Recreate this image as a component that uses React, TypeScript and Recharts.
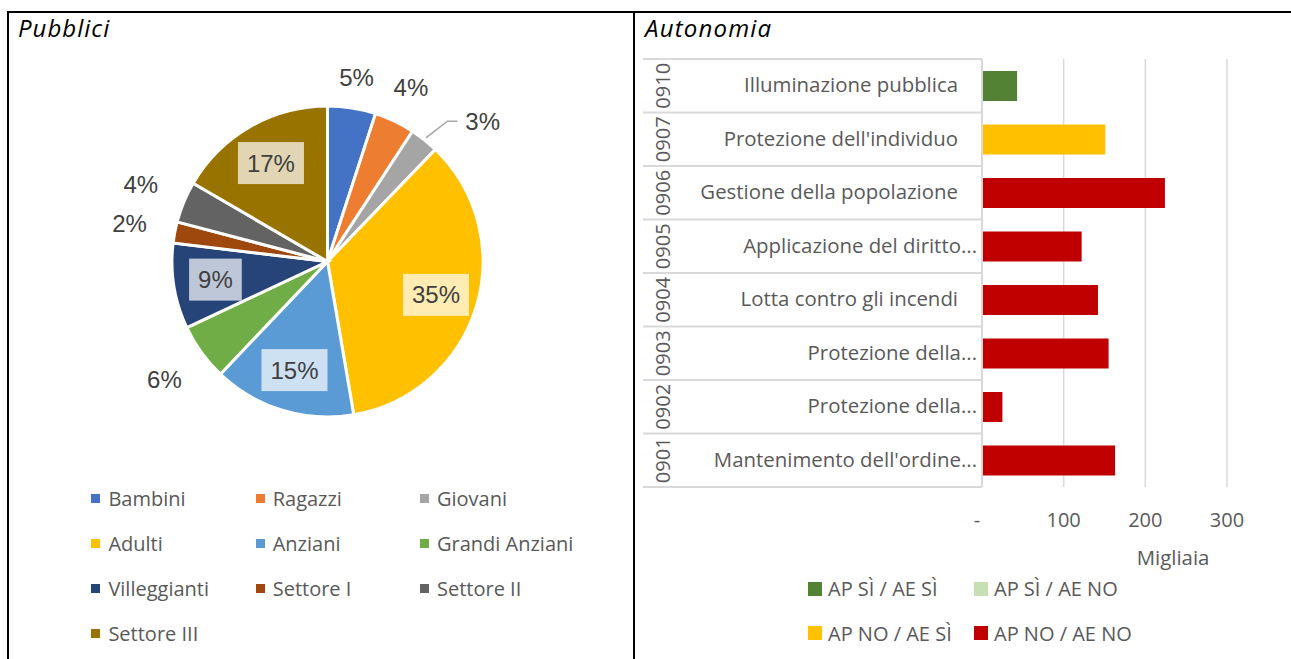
import React from 'react';
import { PieChart, Pie, Cell, Legend, BarChart, Bar, XAxis, YAxis, CartesianGrid, Label } from 'recharts';

// ---------- Data: Pubblici (pie) ----------
const pieCategories = ['Bambini', 'Ragazzi', 'Giovani', 'Adulti', 'Anziani', 'Grandi Anziani', 'Villeggianti', 'Settore I', 'Settore II', 'Settore III'];
const pieValues = [5.0, 4.2, 3.0, 35.1, 14.8, 5.9, 8.9, 2.2, 4.3, 16.6];
const pieColors = ['#4472C4', '#ED7D31', '#A5A5A5', '#FFC000', '#5B9BD5', '#70AD47', '#264478', '#9E480E', '#636363', '#997300'];
const leaderLabels = ['Giovani'];

// ---------- Data: Autonomia (bars) ----------
const barCodes = ['0910', '0907', '0906', '0905', '0904', '0903', '0902', '0901'];
const barNames = ['Illuminazione pubblica', "Protezione dell'individuo", 'Gestione della popolazione', 'Applicazione del diritto...', 'Lotta contro gli incendi', 'Protezione della...', 'Protezione della...', "Mantenimento dell'ordine..."];
const apSiAeSi = [43, null, null, null, null, null, null, null];
const apSiAeNo = [null, null, null, null, null, null, null, null];
const apNoAeSi = [null, 151, null, null, null, null, null, null];
const apNoAeNo = [null, null, 224, 122, 142, 155, 25, 163];
const seriesNames = ['AP SÌ / AE SÌ', 'AP SÌ / AE NO', 'AP NO / AE SÌ', 'AP NO / AE NO'];
const seriesColors = ['#548235', '#C6E0B4', '#FFC000', '#C00000'];
const xTicks = [0, 100, 200, 300];

const pieData = pieCategories.map((name, i) => ({ name, value: pieValues[i] }));
const barData = barCodes.map((code, i) => ({
  code,
  name: barNames[i],
  s0: apSiAeSi[i],
  s1: apSiAeNo[i],
  s2: apNoAeSi[i],
  s3: apNoAeNo[i],
}));

const PIE_FONT = '"Liberation Sans", Arial, sans-serif';
const UI_FONT = '"Open Sans", "Noto Sans", sans-serif';
const TEXT = '#404040';
const SOFT = '#595959';
const GRID = '#D9D9D9';
const RAD = Math.PI / 180;

// ---------- Pie labels ----------
function renderPieLabel(props: any) {
  const { cx, cy, midAngle, outerRadius, percent, name, index } = props;
  const text = `${Math.round(percent * 100)}%`;
  const fs = 24;
  const tw = (text.length - 1) * 0.556 * fs + 0.889 * fs;
  const dx = Math.cos(-midAngle * RAD);
  const dy = Math.sin(-midAngle * RAD);
  if (percent >= 0.08) {
    const r = outerRadius * 0.73;
    const x = cx + r * dx;
    const y = cy + r * dy;
    const bw = tw + 18;
    const bh = 42;
    return (
      <g key={`lbl-${index}`}>
        <rect x={x - bw / 2} y={y - bh / 2} width={bw} height={bh} fill="#fff" fillOpacity={0.7} />
        <text x={x} y={y} textAnchor="middle" dominantBaseline="central" fontSize={fs} fontFamily={PIE_FONT} fill={TEXT}>{text}</text>
      </g>
    );
  }
  if (leaderLabels.includes(name)) {
    const sx = cx + (outerRadius + 2.5) * dx;
    const sy = cy + (outerRadius + 2.5) * dy;
    const a2 = (midAngle - 2) * RAD;
    const ex = cx + (outerRadius + 29) * Math.cos(-a2);
    const ey = cy + (outerRadius + 29) * Math.sin(-a2);
    return (
      <g key={`lbl-${index}`}>
        <polyline points={`${sx},${sy} ${ex},${ey} ${ex + 10},${ey}`} fill="none" stroke="#A6A6A6" strokeWidth={1.5} />
        <text x={ex + 18} y={ey} textAnchor="start" dominantBaseline="central" fontSize={fs} fontFamily={PIE_FONT} fill={TEXT}>{text}</text>
      </g>
    );
  }
  const gap = 14 + 13 * Math.abs(dx);
  const d = outerRadius + gap + Math.abs(dx) * tw / 2 + Math.abs(dy) * 12;
  return (
    <text key={`lbl-${index}`} x={cx + d * dx} y={cy + d * dy} textAnchor="middle" dominantBaseline="central" fontSize={fs} fontFamily={PIE_FONT} fill={TEXT}>{text}</text>
  );
}

function PieLegendContent(props: any) {
  const payload = props.payload || [];
  return (
    <div style={{ position: 'relative', width: 623, height: 646 }}>
      {payload.map((p: any, i: number) => {
        const idx = pieCategories.indexOf(p.value);
        const k = idx >= 0 ? idx : i;
        const row = Math.floor(k / 3);
        const col = k % 3;
        const top = 485 + row * 45;
        const left = 82.4 + col * 164.3;
        return (
          <div key={p.value + i} style={{ position: 'absolute', left, top: top - 14, height: 28, display: 'flex', alignItems: 'center', whiteSpace: 'nowrap' }}>
            <span style={{ display: 'inline-block', width: 9, height: 9, background: pieColors[k] }} />
            <span style={{ marginLeft: 8, fontFamily: UI_FONT, fontSize: 20, color: SOFT }}>{p.value}</span>
          </div>
        );
      })}
    </div>
  );
}

// ---------- Bar chart helpers ----------
const BAR_W = 656;
const BAR_H = 646;
const PLOT_TOP = 46;
const PLOT_BOTTOM_MARGIN = 100;
const XAXIS_H = 72;
const PLOT_H = BAR_H - PLOT_TOP - PLOT_BOTTOM_MARGIN - XAXIS_H;
const BAND = PLOT_H / barCodes.length;
const YAXIS_W = 347;

function YTick(props: any) {
  const { y, payload } = props;
  const i = barCodes.indexOf(payload.value);
  const name = barNames[i] ?? '';
  const ellipsis = name.endsWith('...');
  const codeX = 27;
  const nameEnd = ellipsis ? 342 : 323;
  const top = y - BAND / 2;
  return (
    <g>
      <line x1={8} x2={YAXIS_W} y1={top} y2={top} stroke={GRID} strokeWidth={2} />
      {i === barCodes.length - 1 && (
        <line x1={8} x2={YAXIS_W} y1={y + BAND / 2} y2={y + BAND / 2} stroke={GRID} strokeWidth={2} />
      )}
      <text x={codeX} y={y} transform={`rotate(-90, ${codeX}, ${y})`} textAnchor="middle" dominantBaseline="central" fontSize={20} fontFamily={UI_FONT} fill={SOFT}>{payload.value}</text>
      <text x={nameEnd} y={y - 1.5} textAnchor="end" dominantBaseline="central" fontSize={20.4} fontFamily={UI_FONT} fill={SOFT}>{name}</text>
    </g>
  );
}

function XTick(props: any) {
  const { x, y, payload } = props;
  const zero = payload.value === 0;
  return (
    <text x={zero ? x - 5 : x} y={y + 32} textAnchor="middle" dominantBaseline="central" fontSize={20} fontFamily={UI_FONT} fill={SOFT}>
      {zero ? '-' : payload.value}
    </text>
  );
}

function MigliaiaLabel(props: any) {
  const vb = props.viewBox || {};
  return (
    <text x={vb.x + vb.width * 0.78} y={vb.y + 70} textAnchor="middle" dominantBaseline="central" fontSize={20.4} fontFamily={UI_FONT} fill={SOFT}>Migliaia</text>
  );
}

function BarLegendContent(props: any) {
  const payload = props.payload || [];
  return (
    <div style={{ position: 'relative', width: BAR_W, height: BAR_H }}>
      {payload.map((p: any, i: number) => {
        const idx = seriesNames.indexOf(p.value);
        const k = idx >= 0 ? idx : i;
        const row = Math.floor(k / 2);
        const col = k % 2;
        const cy = 575.7 + row * 44.6;
        const left = 173 + col * 166;
        return (
          <div key={p.value + i} style={{ position: 'absolute', left, top: cy - 14, height: 28, display: 'flex', alignItems: 'center', whiteSpace: 'nowrap' }}>
            <span style={{ display: 'inline-block', width: 14, height: 14, background: seriesColors[k] }} />
            <span style={{ marginLeft: 6, fontFamily: UI_FONT, fontSize: 20, color: SOFT }}>{p.value}</span>
          </div>
        );
      })}
    </div>
  );
}

export default function App() {
  return (
    <div style={{ position: 'absolute', left: 0, top: 0, width: 1291, height: 659, background: '#fff', overflow: 'hidden' }}>
      <svg width={1291} height={659} style={{ position: 'absolute', left: 0, top: 0 }}>
        <rect x={7} y={11} width={1284} height={2} fill="#000" />
        <rect x={7} y={11} width={2} height={648} fill="#000" />
        <rect x={633} y={11} width={2} height={648} fill="#000" />
        <text x={18} y={37} fontFamily={UI_FONT} fontStyle="italic" fontSize={24} letterSpacing={1} fill="#000">Pubblici</text>
        <text x={645} y={37} fontFamily={UI_FONT} fontStyle="italic" fontSize={24} letterSpacing={1.2} fill="#000">Autonomia</text>
      </svg>

      <div style={{ position: 'absolute', left: 9, top: 13, width: 623, height: 646 }}>
        <PieChart width={623} height={646} margin={{ top: 0, right: 0, bottom: 0, left: 0 }}>
          <Pie
            data={pieData}
            dataKey="value"
            nameKey="name"
            cx={318.5}
            cy={248.5}
            outerRadius={155.5}
            startAngle={90}
            endAngle={-270}
            stroke="#fff"
            strokeWidth={3}
            label={renderPieLabel}
            labelLine={false}
            isAnimationActive={false}
          >
            {pieData.map((d, i) => (
              <Cell key={d.name} fill={pieColors[i]} />
            ))}
          </Pie>
          <Legend
            layout="horizontal"
            verticalAlign="middle"
            align="center"
            content={PieLegendContent}
            wrapperStyle={{ left: 0, top: 0, width: 623, height: 646, pointerEvents: 'none' }}
          />
        </PieChart>
      </div>

      <div style={{ position: 'absolute', left: 635, top: 13, width: BAR_W, height: BAR_H }}>
        <BarChart
          width={BAR_W}
          height={BAR_H}
          data={barData}
          layout="vertical"
          margin={{ top: PLOT_TOP, right: 64, bottom: PLOT_BOTTOM_MARGIN, left: 0 }}
          barSize={30}
        >
          <CartesianGrid horizontal={false} vertical={true} stroke={GRID} strokeWidth={1.5} />
          <XAxis
            type="number"
            domain={[0, 300]}
            ticks={xTicks}
            interval={0}
            axisLine={false}
            tickLine={false}
            tickSize={0}
            tickMargin={0}
            height={XAXIS_H}
            tick={<XTick />}
          >
            <Label content={<MigliaiaLabel />} />
          </XAxis>
          <YAxis
            type="category"
            dataKey="code"
            width={YAXIS_W}
            axisLine={{ stroke: GRID, strokeWidth: 2 }}
            tickLine={false}
            interval={0}
            tick={<YTick />}
          />
          <Bar dataKey="s0" name={seriesNames[0]} stackId="a" fill={seriesColors[0]} isAnimationActive={false} />
          <Bar dataKey="s1" name={seriesNames[1]} stackId="a" fill={seriesColors[1]} isAnimationActive={false} />
          <Bar dataKey="s2" name={seriesNames[2]} stackId="a" fill={seriesColors[2]} isAnimationActive={false} />
          <Bar dataKey="s3" name={seriesNames[3]} stackId="a" fill={seriesColors[3]} isAnimationActive={false} />
          <Legend
            layout="horizontal"
            verticalAlign="middle"
            align="center"
            content={BarLegendContent}
            wrapperStyle={{ left: 0, top: 0, width: BAR_W, height: BAR_H, pointerEvents: 'none' }}
          />
        </BarChart>
      </div>
    </div>
  );
}
